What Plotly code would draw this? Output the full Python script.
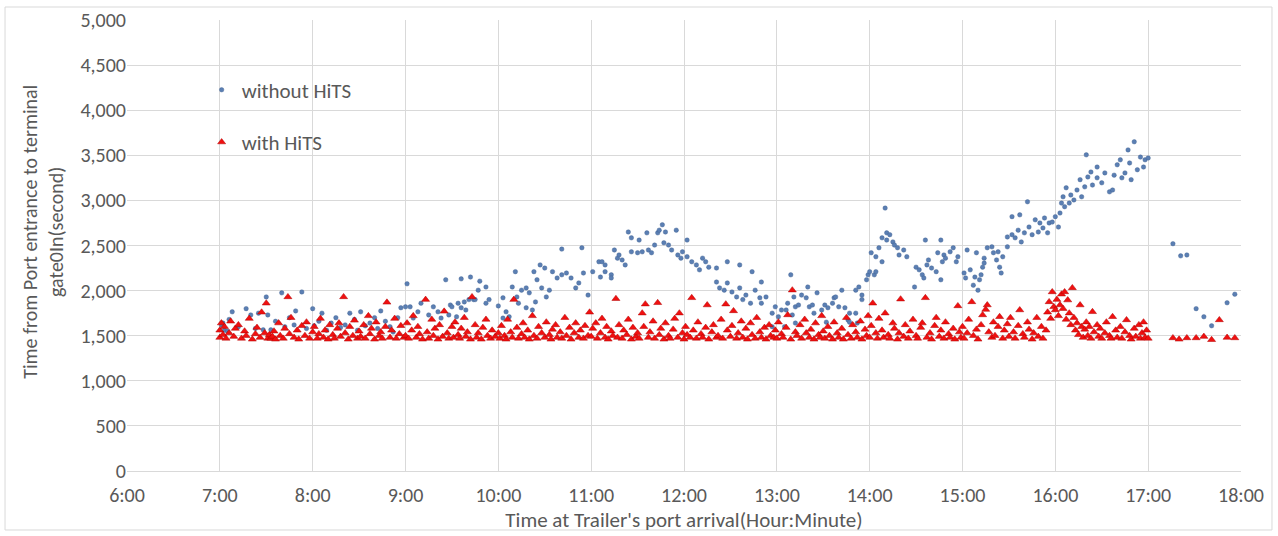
import plotly.graph_objects as go

# x: minutes after midnight, y: seconds
tick_minutes = [360, 420, 480, 540, 600, 660, 720, 780, 840, 900, 960, 1020, 1080]
tick_labels = ["6:00", "7:00", "8:00", "9:00", "10:00", "11:00", "12:00",
               "13:00", "14:00", "15:00", "16:00", "17:00", "18:00"]
y_ticks = [0, 500, 1000, 1500, 2000, 2500, 3000, 3500, 4000, 4500, 5000]

without_hits = [
    (421,1620),(422,1640),(423,1560),(425,1550),(426,1680),(428,1765),(432,1600),(437,1800),(440,1730),(443,1580),
    (445,1750),(448,1565),(450,1930),(451,1730),(453,1565),(456,1660),(460,1975),(462,1600),(465,1700),(468,1620),
    (469,1775),(473,1985),(476,1580),(480,1800),(481,1610),(484,1660),(486,1750),(489,1560),(492,1640),(495,1700),
    (498,1590),(501,1620),(504,1750),(507,1680),(509,1560),(511,1765),(514,1610),(517,1640),(520,1700),(522,1580),
    (524,1775),(527,1660),(530,1600),(532,1540),(535,1700),(537,1810),(540,1820),(541,2075),
    (543,1820),(545,1695),(548,1765),(550,1860),(555,1730),(558,1820),(561,1765),(563,1695),(566,2120),(568,1730),
    (569,1840),(570,1820),(573,1710),(574,1860),(576,1810),(576,2130),(578,1875),(579,1785),(581,1900),(582,2150),
    (584,1900),(585,1900),(587,2005),(588,2105),(592,2040),(592,1860),(594,1900),(600,1830),(603,1920),(603,1695),
    (605,1765),(607,1710),(609,2040),(611,2210),(612,1930),(613,1860),(615,2005),(618,2030),(618,1810),(620,1975),
    (622,1785),(623,2210),(624,1875),(625,2120),(627,2285),(628,2030),(630,2250),(631,1930),(633,2005),(635,2210),
    (638,2140),(641,2460),(641,2175),(644,2195),(647,2140),(650,2030),(652,2085),(654,2475),(655,2195),(658,1950),
    (661,2210),(665,2320),(666,2150),(667,2320),(669,2285),(669,2210),(673,2175),(673,2140),(675,2450),(677,2360),
    (678,2395),(680,2340),(682,2285),(684,2650),(686,2585),(686,2430),(690,2420),(691,2560),(693,2430),(696,2640),
    (697,2450),(699,2420),(701,2505),(703,2640),(704,2670),(706,2730),(707,2530),(708,2650),(710,2505),(712,2450),
    (715,2670),(716,2395),(718,2360),(719,2430),(722,2560),(722,2375),(725,2320),(728,2285),(730,2230),(732,2360),
    (734,2320),(736,2260),(741,2250),(741,2095),(743,2030),(746,2005),(748,2320),(748,2085),(751,1985),(754,1930),
    (756,2285),(756,2030),(758,1900),(760,1950),(763,1860),(764,2210),(766,2005),(769,1920),(770,2095),(770,1860),
    (773,1930),(777,1750),(777,1600),(779,1820),(781,1710),(783,1785),(785,1600),(786,1785),(787,1860),(789,2175),
    (790,1730),(791,1930),(792,1820),(792,1640),(794,1840),(796,1950),(799,1920),(800,2040),(801,1820),(803,1840),
    (804,1750),(806,1975),(809,1785),(811,1840),(812,1650),(813,1810),(816,1860),(817,1920),(818,1930),(820,1820),
    (822,2005),(824,1810),(826,1675),(827,1750),(827,1650),(831,2005),(831,1750),(832,1640),(833,2040),(835,1950),
    (835,1900),(838,2120),(839,2175),(840,2210),(841,2420),(843,2175),(844,2210),(844,2375),(846,2475),(848,2320),
    (848,2585),(850,2915),(851,2640),(851,2560),(853,2620),(855,2540),(856,2505),(858,2475),(859,2395),(862,2450),
    (864,2375),(869,2040),(870,2260),(872,2230),(874,2175),(875,2140),(876,2560),(877,2285),(878,2340),(880,2250),
    (883,2210),(884,2420),(886,2560),(886,2120),(887,2320),(888,2395),(889,2360),(892,2430),(894,2475),(896,2320),
    (897,2375),(901,2195),(902,2140),(903,2450),(905,2230),(907,2060),(908,2150),(909,2420),(910,2005),(911,2120),
    (912,2175),(913,2260),(914,2305),(914,2360),(916,2475),(919,2485),(920,2420),(922,2340),(923,2430),(924,2260),
    (925,2195),(926,2375),(929,2595),(929,2485),(932,2620),(932,2820),(934,2585),(936,2670),(937,2840),(938,2540),
    (940,2640),(942,2985),(943,2705),(945,2620),(947,2785),(949,2650),(950,2750),(952,2695),(953,2805),(955,2640),
    (956,2750),(958,2760),(960,2820),(962,2705),(963,2860),(964,2970),(965,3040),(966,2930),(967,3140),(969,2970),
    (970,3060),(972,3005),(974,3115),(976,3230),(977,3040),(979,3150),(980,3505),(981,3260),(983,3315),(984,3170),
    (987,3370),(987,3250),(990,3195),(992,3305),(995,3095),(997,3115),(998,3280),(1000,3395),(1002,3450),(1003,3250),
    (1005,3305),(1007,3560),(1008,3415),(1009,3230),(1011,3650),(1013,3340),(1015,3480),(1017,3370),(1018,3450),(1020,3470),
    (1036,2520),(1041,2385),(1045,2395),(1051,1800),(1056,1710),(1061,1610),(1071,1865),(1076,1960),
]

with_hits = [
    (420,1480),(420,1560),(421,1640),(422,1510),(423,1600),(424,1470),(426,1530),(427,1660),(429,1490),(430,1580),
    (432,1620),(434,1470),(436,1550),(437,1500),(439,1690),(441,1460),(443,1520),(444,1590),(446,1480),(447,1760),(449,1530),
    (450,1860),(451,1470),(452,1510),(453,1470),(454,1490),(455,1550),(456,1460),(458,1640),(459,1500),(461,1470),
    (462,1580),(464,1930),(465,1520),(466,1700),(468,1480),(470,1560),(471,1460),(473,1610),(475,1500),(476,1650),(478,1470),
    (480,1540),(481,1600),(483,1470),(484,1520),(485,1690),(487,1480),(488,1560),(490,1460),(491,1620),(493,1510),
    (494,1470),(496,1580),(497,1640),(498,1490),(500,1930),(501,1530),(503,1460),(504,1600),(506,1500),(507,1670),(509,1470),
    (510,1550),(511,1490),(513,1620),(514,1470),(516,1720),(517,1520),(518,1580),(520,1460),(521,1650),(523,1500),
    (524,1540),(525,1470),(527,1600),(528,1870),(530,1480),(531,1560),(533,1690),(534,1470),(536,1520),(537,1610),(539,1480),
    (540,1500),(541,1640),(542,1470),(544,1560),(545,1720),(547,1480),(548,1600),(549,1520),(551,1460),(553,1900),
    (554,1540),(555,1470),(557,1680),(558,1500),(559,1580),(561,1460),(562,1620),(564,1490),(565,1770),(567,1530),(568,1470),
    (570,1600),(571,1480),(572,1650),(574,1510),(575,1470),(576,1580),(578,1700),(579,1490),(580,1540),(582,1460),
    (583,1930),(585,1620),(586,1480),(587,1530),(589,1460),(590,1590),(592,1680),(593,1500),(595,1470),(596,1560),(598,1490),
    (600,1530),(601,1470),(602,1610),(604,1500),(605,1460),(606,1680),(608,1540),(609,1480),(610,1900),(612,1590),
    (613,1470),(615,1520),(616,1640),(617,1480),(619,1560),(620,1460),(622,1720),(623,1500),(625,1470),(626,1600),(628,1530),
    (630,1480),(631,1650),(633,1510),(634,1460),(635,1570),(637,1620),(638,1480),(640,1540),(641,1470),(643,1700),
    (644,1500),(646,1590),(647,1460),(649,1530),(650,1640),(652,1480),(653,1560),(655,1470),(656,1610),(658,1500),(659,1760),
    (660,1490),(661,1580),(663,1640),(664,1470),(666,1530),(667,1690),(669,1480),(670,1600),(671,1460),(673,1550),
    (674,1500),(676,1910),(677,1480),(678,1620),(680,1470),(681,1560),(683,1510),(684,1680),(686,1460),(687,1590),(689,1490),
    (690,1530),(691,1470),(693,1750),(694,1600),(695,1850),(697,1480),(698,1540),(700,1660),(701,1470),(703,1865),
    (704,1510),(705,1580),(707,1460),(708,1640),(710,1500),(711,1470),(713,1570),(714,1690),(716,1480),(717,1750),(719,1530),
    (720,1460),(721,1600),(722,1510),(724,1480),(725,1920),(726,1560),(728,1470),(729,1650),(731,1520),(732,1480),
    (734,1590),(735,1840),(736,1460),(738,1540),(739,1620),(741,1480),(742,1500),(744,1680),(745,1470),(747,1850),(748,1560),
    (750,1490),(751,1610),(752,1775),(754,1470),(755,1530),(757,1660),(758,1480),(760,1580),(761,1460),(763,1640),
    (764,1510),(766,1470),(767,1700),(769,1540),(770,1480),(772,1590),(773,1460),(775,1620),(776,1500),(778,1480),(779,1560),
    (780,1470),(781,1650),(783,1520),(784,1480),(786,1590),(787,1730),(789,1460),(790,2005),(792,1540),(793,1500),
    (795,1620),(796,1470),(798,1680),(799,1530),(801,1480),(802,1570),(804,1460),(805,1640),(807,1510),(808,1480),(809,1720),
    (810,1550),(811,1470),(813,1600),(814,1500),(816,1460),(817,1650),(819,1530),(820,1480),(822,1580),(823,1460),
    (825,1700),(826,1510),(828,1470),(829,1620),(831,1540),(832,1480),(834,1660),(835,1460),(837,1570),(838,1500),(839,1720),
    (840,1480),(841,1610),(842,1860),(844,1530),(845,1470),(846,1690),(848,1560),(849,1480),(850,1750),(852,1510),
    (853,1470),(855,1640),(856,1580),(858,1460),(859,1530),(860,1905),(862,1490),(863,1620),(865,1470),(866,1550),(868,1680),
    (870,1500),(871,1470),(873,1590),(874,1640),(876,1920),(877,1480),(879,1530),(880,1460),(882,1610),(883,1700),
    (885,1490),(886,1560),(888,1470),(889,1650),(891,1520),(892,1480),(894,1580),(895,1460),(897,1830),(898,1540),(899,1480),
    (900,1600),(901,1470),(903,1530),(904,1680),(906,1875),(907,1500),(909,1570),(910,1460),(912,1620),(913,1730),
    (915,1790),(916,1840),(917,1540),(919,1480),(920,1650),(921,1500),(923,1600),(924,1710),(926,1470),(927,1560),(929,1630),
    (930,1490),(931,1700),(933,1540),(934,1470),(936,1610),(937,1785),(939,1520),(940,1480),(942,1650),(943,1570),
    (945,1460),(946,1530),(948,1700),(949,1490),(951,1600),(952,1470),(954,1560),(955,1760),(956,1875),(957,1690),(958,1985),
    (959,1820),(960,1785),(961,1900),(962,1720),(963,1840),(964,1960),(965,1800),(966,1985),(967,1680),(968,1895),
    (969,1750),(970,1620),(971,2030),(972,1700),(973,1560),(974,1640),(975,1510),(976,1840),(977,1600),(978,1480),
    (979,1570),(980,1650),(981,1500),(982,1600),(983,1470),(984,1765),(985,1540),(987,1620),(988,1490),
    (989,1580),(990,1470),(992,1530),(993,1650),(995,1500),(996,1470),(997,1710),(999,1560),(1000,1480),(1002,1600),
    (1003,1470),(1005,1540),(1006,1675),(1008,1500),(1009,1460),(1011,1580),(1012,1490),(1014,1620),(1015,1470),(1016,1530),
    (1017,1650),(1018,1480),(1019,1560),(1020,1470),
    (1036,1475),(1040,1460),(1045,1475),(1051,1475),(1056,1490),(1061,1455),(1066,1675),(1071,1480),(1076,1475),
]

bx = [p[0] for p in without_hits]
by = [p[1] for p in without_hits]
rx = [p[0] for p in with_hits]
ry = [p[1] for p in with_hits]

FONT = "Calibri, Carlito, Lato, sans-serif"
GRAY = "#595959"
GRID = "#D9D9D9"

fig = go.Figure()
fig.add_trace(go.Scatter(
    x=bx, y=by, mode="markers", name="without HiTS", legendgroup="a",
    marker=dict(symbol="circle", size=4.5, color="#5B7FB3",
                line=dict(width=0.4, color="#3E5F8F")),
))
fig.add_trace(go.Scatter(
    x=rx, y=ry, mode="markers", name="with HiTS", legendgroup="b",
    marker=dict(symbol="triangle-up", size=7, color="#F01010",
                line=dict(width=0.5, color="#B00000")),
))

fig.update_layout(
    width=1278, height=536,
    margin=dict(l=127, r=37, t=20, b=65, autoexpand=False),
    paper_bgcolor="white", plot_bgcolor="white",
    font=dict(family=FONT, color=GRAY, size=20),
    showlegend=True,
    legend=dict(x=0.067, y=0.89, xanchor="left", yanchor="top",
                bgcolor="rgba(0,0,0,0)", font=dict(size=21, color=GRAY),
                tracegroupgap=22, itemwidth=30, traceorder="grouped"),
    xaxis=dict(range=[360, 1080], tickvals=tick_minutes, ticktext=tick_labels,
               showgrid=True, gridcolor=GRID, gridwidth=1, automargin=False,
               showline=True, linecolor=GRID, zeroline=False, ticks="",
               ticklabelstandoff=6,
               tickfont=dict(size=20, color=GRAY),
               title=dict(text="Time at Trailer's port arrival(Hour:Minute)",
                          font=dict(size=21, color=GRAY), standoff=2)),
    yaxis=dict(range=[0, 5000], tickvals=y_ticks, tickformat=",",
               showgrid=True, gridcolor=GRID, gridwidth=1, zeroline=False,
               automargin=False,
               showline=False, ticks="", tickfont=dict(size=20, color=GRAY)),
    annotations=[dict(text="Time from Port entrance to terminal<br>gate0In(second)",
                      xref="paper", yref="paper", x=-0.0755, y=0.53,
                      xanchor="center", yanchor="middle", textangle=-90,
                      showarrow=False, font=dict(size=20, color=GRAY))],
    shapes=[dict(type="rect", xref="paper", yref="paper",
                 x0=-0.1095, x1=1.0278, y0=-0.1308, y1=1.0288,
                 line=dict(color="#D9D9D9", width=1), fillcolor="rgba(0,0,0,0)",
                 layer="below")],
)

fig.write_html("out.html")
